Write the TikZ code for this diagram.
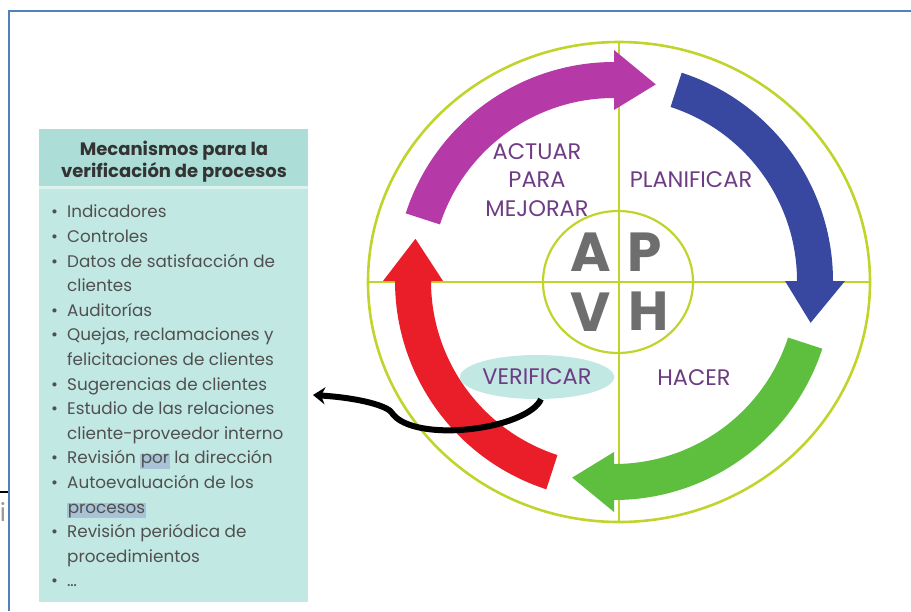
\documentclass[tikz,border=0pt]{standalone}
\usepackage{fontspec}
\setmainfont{Poppins}
\usepackage{tikz}
\usetikzlibrary{calc,shapes.geometric,arrows.meta}

\definecolor{aro}{RGB}{192,212,44}
\definecolor{morado}{RGB}{181,58,167}
\definecolor{azul}{RGB}{56,72,160}
\definecolor{verde}{RGB}{94,190,62}
\definecolor{rojo}{RGB}{233,30,40}
\definecolor{cabeza}{RGB}{172,221,214}
\definecolor{cuerpo}{RGB}{194,232,227}
\definecolor{raya}{RGB}{220,242,239}
\definecolor{marco}{RGB}{79,129,189}
\definecolor{marcaazul}{RGB}{168,194,214}
\definecolor{lila}{RGB}{110,60,132}
\definecolor{letragris}{RGB}{110,110,110}
\definecolor{textogris}{RGB}{80,80,80}

\newcommand\punto{\makebox[16pt][l]{\textbullet}}
\newcommand\sangria{\hspace*{16pt}}
\newcommand\marca[1]{{\setlength{\fboxsep}{0.6pt}\colorbox{marcaazul}{#1}}}

\begin{document}
\begin{tikzpicture}[x=1pt, y=1pt,
  etiqueta/.style={text=lila, inner sep=0pt, align=center, font=\fontsize{22.5}{28.5}\selectfont},
  letra/.style={text=letragris, inner sep=0pt, font=\bfseries\fontsize{55}{55}\selectfont},
  lista/.style={align=left, inner sep=0pt, text=textogris, font=\fontsize{16.8}{24.6}\selectfont}]
\useasboundingbox (0,0) rectangle (911,-611);

% marco y restos de la pagina
\draw[marco, line width=2.4pt] (9,-611) -- (9,-11) -- (911,-11);
\draw[line width=1.2pt] (0,-492) -- (8,-492);
\node[text=gray!80, inner sep=0pt, font=\fontsize{25}{25}\selectfont] (letrai) at (3,-512) {i};

% caja de mecanismos
\fill[raya] (39,-129) rectangle (308,-602);
\fill[cabeza] (39,-129) rectangle (308,-186);
\fill[cuerpo] (39,-189) rectangle (308,-602);
\node[text=black!80, inner sep=0pt, align=center, font=\bfseries\fontsize{18}{22}\selectfont] (titulo) at (174,-162) {Mecanismos para la\\verificación de procesos};
\node[lista, anchor=north west] (items) at (51,-205) {\punto Indicadores\\
\punto Controles\\
\punto Datos de satisfacción de\\
\sangria clientes\\
\punto Auditorías\\
\punto Quejas, reclamaciones y\\
\sangria felicitaciones de clientes\\
\punto Sugerencias de clientes\\
\punto Estudio de las relaciones\\
\sangria cliente-proveedor interno\\
\punto Revisión \marca{por} la dirección\\
\punto Autoevaluación de los\\
\sangria \marca{procesos}\\
\punto Revisión periódica de\\
\sangria procedimientos\\
\punto \dots};
\coordinate (punta) at (313,-395);

% rueda
\node[ellipse, draw=aro, line width=2.6pt, minimum width=502pt, minimum height=480pt, inner sep=0pt] (rueda) at (619,-282) {};
\draw[aro, line width=2.4pt] (rueda.north) -- (rueda.south);
\draw[aro, line width=2.4pt] (rueda.west) -- (rueda.east);
\node[ellipse, draw=aro, line width=2.2pt, minimum width=150pt, minimum height=142pt, inner sep=0pt] (centro) at (618,-282) {};
\coordinate (ctr) at (614,-281);

% flechas del ciclo
\fill[morado] ($(ctr)+(162:219)$) arc[start angle=162, end angle=90, radius=219] -- ($(ctr)+(90:231)$) -- ($(ctr)+(78:201)$) -- ($(ctr)+(90:171)$) -- ($(ctr)+(90:183)$) arc[start angle=90, end angle=162, radius=183] -- cycle;
\fill[azul] ($(ctr)+(72:219)$) arc[start angle=72, end angle=0, radius=219] -- ($(ctr)+(0:231)$) -- ($(ctr)+(-12:201)$) -- ($(ctr)+(0:171)$) -- ($(ctr)+(0:183)$) arc[start angle=0, end angle=72, radius=183] -- cycle;
\fill[verde] ($(ctr)+(-18:219)$) arc[start angle=-18, end angle=-90, radius=219] -- ($(ctr)+(-90:231)$) -- ($(ctr)+(-102:201)$) -- ($(ctr)+(-90:171)$) -- ($(ctr)+(-90:183)$) arc[start angle=-90, end angle=-18, radius=183] -- cycle;
\fill[rojo] ($(ctr)+(-108:219)$) arc[start angle=-108, end angle=-180, radius=219] -- ($(ctr)+(-180:231)$) -- ($(ctr)+(-192:203)$) -- ($(ctr)+(-180:171)$) -- ($(ctr)+(-180:183)$) arc[start angle=-180, end angle=-108, radius=183] -- cycle;

% letras y fases
\node[letra] (la) at (591,-252) {A};
\node[letra] (lp) at (645,-252) {P};
\node[letra] (lv) at (591,-312) {V};
\node[letra] (lh) at (649,-311) {H};
\node[etiqueta] (actuar) at (537,-180) {ACTUAR\\PARA\\MEJORAR};
\node[etiqueta] (planif) at (691,-180) {PLANIFICAR};
\node[etiqueta] (hacer) at (694,-378) {HACER};
\node[etiqueta, ellipse, fill=cuerpo, minimum width=144pt, minimum height=44pt] (verif) at (537,-377) {VERIFICAR};

% enlace a la caja
\draw[line width=6pt, -{Stealth[length=12pt,width=17pt]}] (verif.-80) .. controls (536,-412) and (505,-427) .. (460,-430) .. controls (425,-432) and (400,-425) .. (392,-413) .. controls (388,-406) and (360,-398) .. (punta);
\end{tikzpicture}
\end{document}
